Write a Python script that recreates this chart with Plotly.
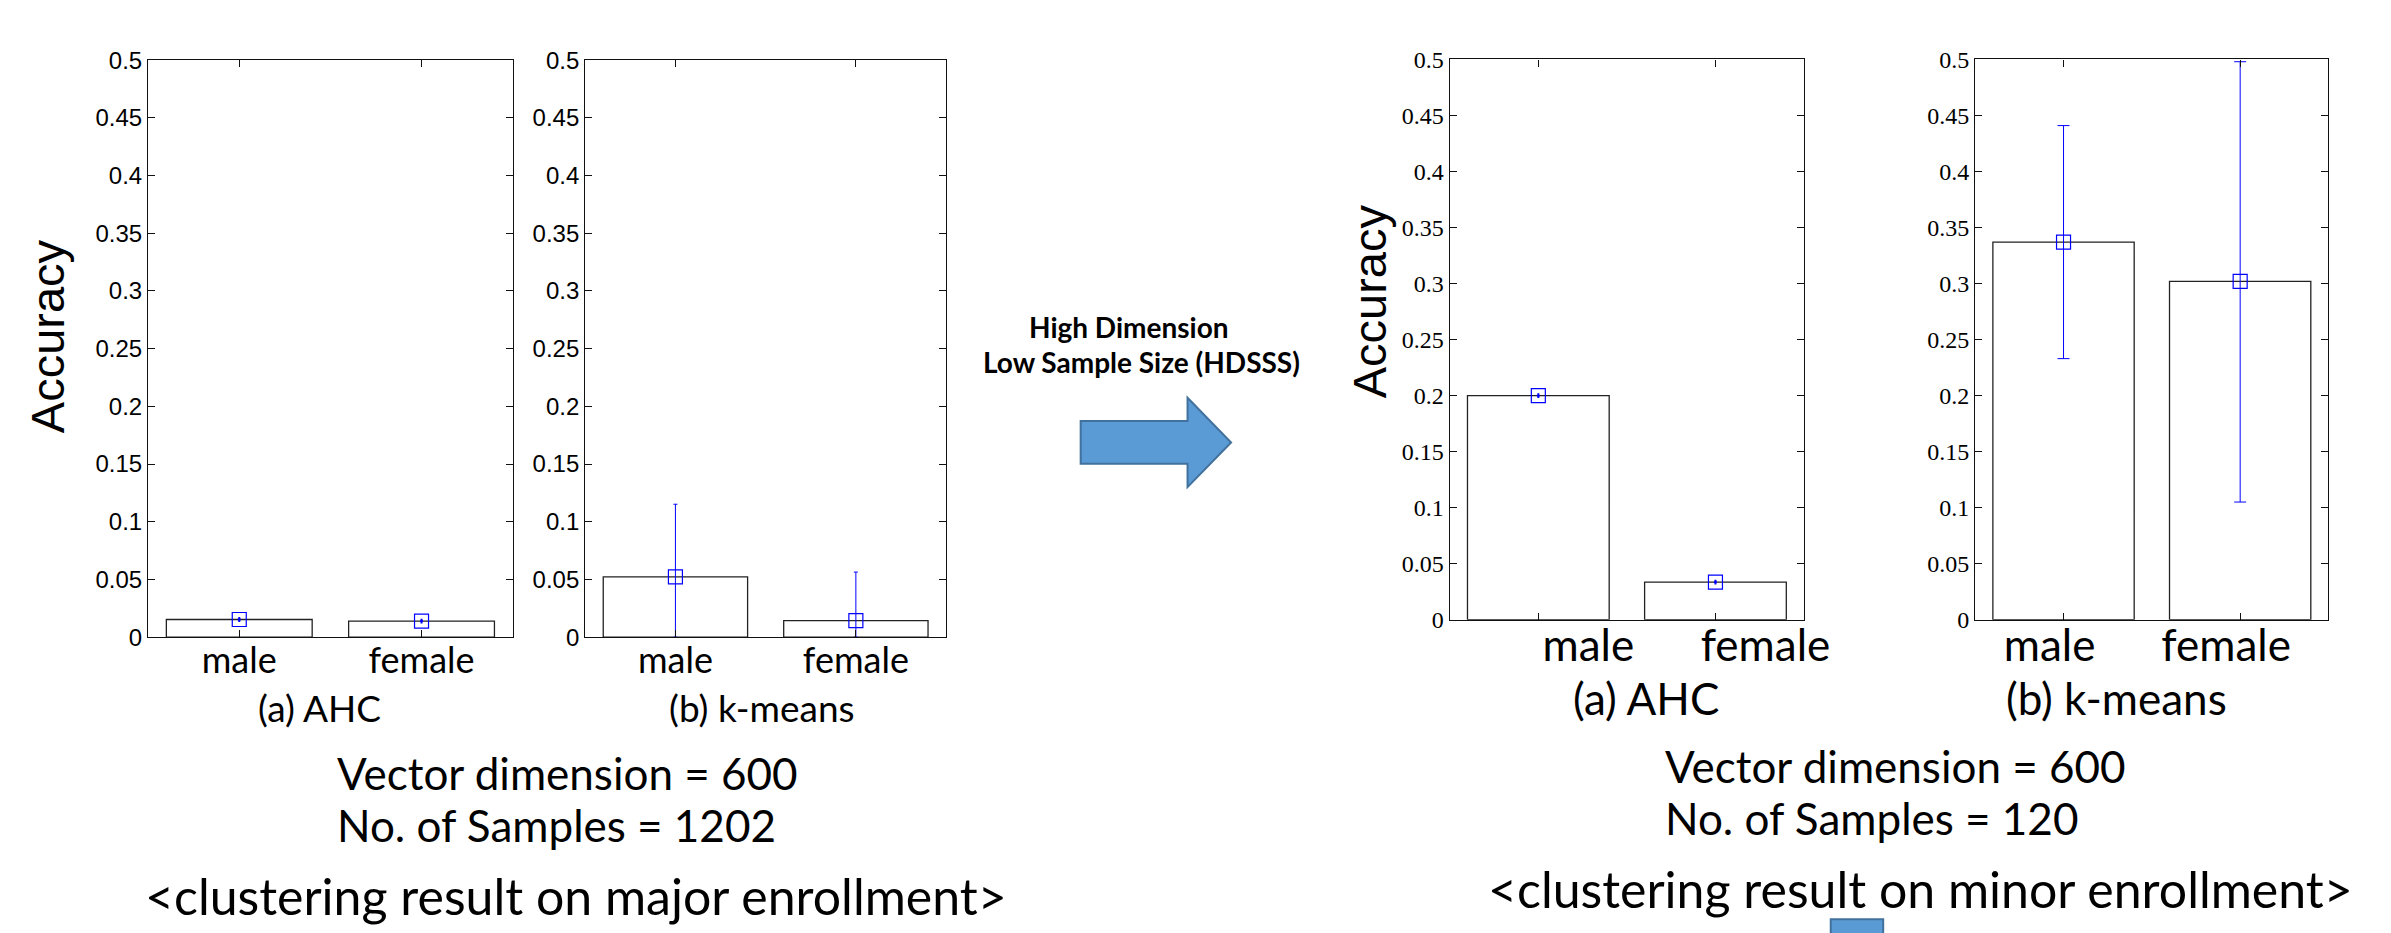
import plotly.graph_objects as go

W, H = 2391, 933

# ---------------- data ----------------
categories = ["male", "female"]
y_tick_values = [0, 0.05, 0.1, 0.15, 0.2, 0.25, 0.3, 0.35, 0.4, 0.45, 0.5]
y_tick_labels = ["0", "0.05", "0.1", "0.15", "0.2", "0.25", "0.3", "0.35", "0.4", "0.45", "0.5"]

# major enrollment (vector dimension 600, 1202 samples)
major_ahc_mean = [0.0153, 0.0139]
major_ahc_err = [0.0008, 0.0008]
major_kmeans_mean = [0.0522, 0.0144]
major_kmeans_err_up = [0.063, 0.042]
major_kmeans_err_down = [0.0522, 0.0144]

# minor enrollment (vector dimension 600, 120 samples)
minor_ahc_mean = [0.2000, 0.0335]
minor_ahc_err = [0.0008, 0.0008]
minor_kmeans_mean = [0.337, 0.302]
minor_kmeans_err_up = [0.104, 0.196]
minor_kmeans_err_down = [0.104, 0.197]

panel_captions = ["(a) AHC", "(b) k-means", "(a) AHC", "(b) k-means"]

# ---------------- helpers ----------------
def px(x):
    return x / W

def py(y):
    return 1 - y / H

CAL = "Lato, Carlito, Calibri, sans-serif"
ARIAL = "Liberation Sans, Arial, sans-serif"
TIMES = "Liberation Serif, Times New Roman, serif"
BLUE = "#0000FF"

fig = go.Figure()

panels = [
    dict(mean=major_ahc_mean, up=major_ahc_err, down=major_ahc_err,
         xd=(141.6, 510.0), yd=(39.3, 633.5), tfont=ARIAL, tsize=24,
         lsize=36, lshift=0, standoff=-9, cap=1, thick=3),
    dict(mean=major_kmeans_mean, up=major_kmeans_err_up, down=major_kmeans_err_down,
         xd=(583.3, 948.0), yd=(39.3, 633.5), tfont=ARIAL, tsize=24,
         lsize=36, lshift=0, standoff=-9, cap=2, thick=1),
    dict(mean=minor_ahc_mean, up=minor_ahc_err, down=minor_ahc_err,
         xd=(1457.0, 1815.0), yd=(38.6, 615.5), tfont=TIMES, tsize=24,
         lsize=44, lshift=50, standoff=-13, cap=1, thick=3),
    dict(mean=minor_kmeans_mean, up=minor_kmeans_err_up, down=minor_kmeans_err_down,
         xd=(1988.0, 2345.0), yd=(38.6, 615.5), tfont=TIMES, tsize=24,
         lsize=44, lshift=-14, standoff=-13, cap=6, thick=1),
]

layout_axes = {}
for i, p in enumerate(panels, start=1):
    xa = "x" if i == 1 else f"x{i}"
    ya = "y" if i == 1 else f"y{i}"
    fig.add_trace(go.Bar(
        x=categories, y=p["mean"], xaxis=xa, yaxis=ya,
        marker=dict(color="white", line=dict(color="#222222", width=1.3)),
        width=0.8, hoverinfo="skip",
    ))
    fig.add_trace(go.Scatter(
        x=categories, y=p["mean"], xaxis=xa, yaxis=ya, mode="markers",
        marker=dict(symbol="square-open", size=14, color=BLUE, line=dict(width=1.2, color=BLUE)),
        error_y=dict(type="data", symmetric=False, array=p["up"], arrayminus=p["down"],
                     color=BLUE, thickness=p["thick"], width=p["cap"]),
        cliponaxis=False,
    ))
    xkey = "xaxis" if i == 1 else f"xaxis{i}"
    ykey = "yaxis" if i == 1 else f"yaxis{i}"
    layout_axes[xkey] = dict(
        domain=[px(p["xd"][0]), px(p["xd"][1])], anchor=ya,
        type="category", range=[-0.5, 1.5],
        showline=True, linecolor="#111111", linewidth=1.3, mirror="ticks",
        ticks="inside", ticklen=7, tickcolor="#111111", tickwidth=1,
        showgrid=False, zeroline=False,
        tickfont=dict(family=CAL, size=p["lsize"], color="black"),
        ticklabelstandoff=p["standoff"], ticklabelshift=p["lshift"],
    )
    layout_axes[ykey] = dict(
        domain=[py(p["yd"][1]), py(p["yd"][0])], anchor=xa,
        range=[0, 0.5], tickmode="array", tickvals=y_tick_values, ticktext=y_tick_labels,
        showline=True, linecolor="#111111", linewidth=1.3, mirror="ticks",
        ticks="inside", ticklen=7, tickcolor="#111111", tickwidth=1,
        showgrid=False, zeroline=False,
        tickfont=dict(family=p["tfont"], size=p["tsize"], color="black"),
    )

annotations = []

def add_text(text, x, y, size, family=CAL, xanchor="center", yanchor="middle", angle=0, bold=False):
    annotations.append(dict(
        text=f"<b>{text}</b>" if bold else text,
        x=px(x), y=py(y), xref="paper", yref="paper",
        xanchor=xanchor, yanchor=yanchor, showarrow=False, textangle=angle,
        font=dict(family=family, size=size, color="black"),
    ))

# axis titles
add_text("Accuracy", 40, 324, 47, family=ARIAL, angle=-90)
add_text("Accuracy", 1376, 288, 47, family=ARIAL, angle=-90)

# panel captions
add_text(panel_captions[0], 315, 706, 37)
add_text(panel_captions[1], 762, 706, 37)
add_text(panel_captions[2], 1655, 696, 44)
add_text(panel_captions[3], 2131, 696, 44)

# arrow label
add_text("High Dimension", 1133, 314, 28, bold=True)
add_text("Low Sample Size (HDSSS)", 1145, 350, 28, bold=True)

# summary texts
add_text("Vector dimension = 600", 330, 773, 44, xanchor="left")
add_text("No. of Samples = 1202", 330, 827, 44, xanchor="left")
add_text("&lt;clustering result on major enrollment&gt;", 574, 900, 50)
add_text("Vector dimension = 600", 1672, 766, 44, xanchor="left")
add_text("No. of Samples = 120", 1672, 820, 44, xanchor="left")
add_text("&lt;clustering result on minor enrollment&gt;", 1933, 893, 50)

# arrow shape
pts = [(1084, 411), (1192, 411), (1192, 387), (1236, 433), (1192, 479), (1192, 455), (1084, 455)]
path = "M " + " L ".join(f"{px(a):.5f},{py(b):.5f}" for a, b in pts) + " Z"
shapes = [
    dict(type="path", path=path, xref="paper", yref="paper",
         fillcolor="#5B9BD5", line=dict(color="#41719C", width=2)),
    dict(type="rect", xref="paper", yref="paper", x0=px(1842), x1=px(1895), y0=py(945), y1=py(924),
         fillcolor="#5B9BD5", line=dict(color="#41719C", width=2)),
]

fig.update_layout(
    width=W, height=H, margin=dict(l=0, r=0, t=0, b=0),
    paper_bgcolor="white", plot_bgcolor="white",
    showlegend=False, bargap=0.2,
    annotations=annotations, shapes=shapes,
    **layout_axes,
)

fig.write_html("out.html")
